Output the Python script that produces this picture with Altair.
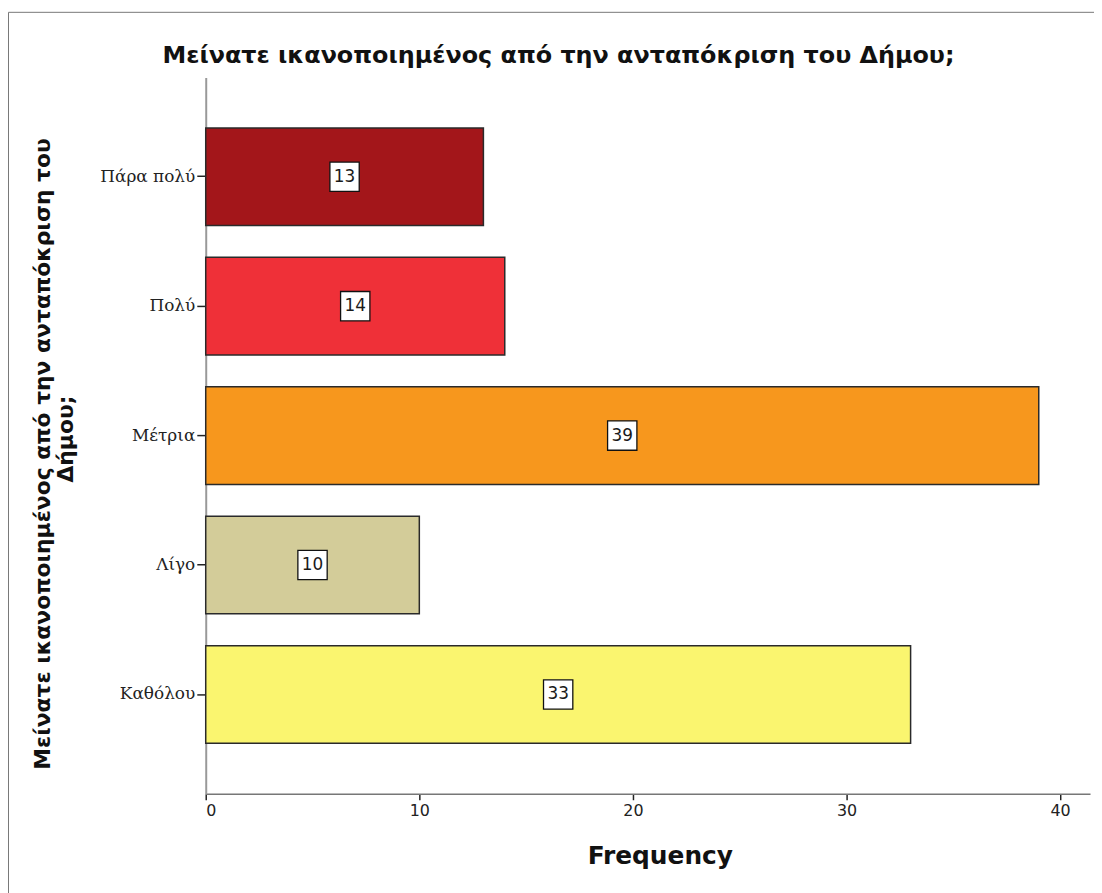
import altair as alt
import pandas as pd

# ---- data ----
categories = ["Πάρα πολύ", "Πολύ", "Μέτρια", "Λίγο", "Καθόλου"]
frequencies = [13, 14, 39, 10, 33]
colors = ["#A3161A", "#EF3038", "#F7971D", "#D3CC99", "#FAF56F"]
x_ticks = [0, 10, 20, 30, 40]
chart_title = "Μείνατε ικανοποιημένος από την ανταπόκριση του Δήμου;"
y_title_lines = ["Μείνατε ικανοποιημένος από την ανταπόκριση του", "Δήμου;"]
x_title = "Frequency"

df = pd.DataFrame({
    "cat": categories,
    "freq": frequencies,
    "half": [f / 2 for f in frequencies],
})

W, H = 890, 721
x_enc = alt.X("freq:Q", scale=alt.Scale(domain=[0, 41.4], nice=False, zero=True),
              axis=alt.Axis(values=x_ticks, title=x_title, grid=False,
                            domainColor="#777", domainWidth=1.5,
                            tickColor="#222", tickSize=6, tickWidth=1.5,
                            labelFont="DejaVu Sans", labelFontSize=16, labelColor="#222",
                            labelPadding=3,
                            titleFont="DejaVu Sans", titleFontSize=25, titleFontWeight="bold",
                            titleColor="#111", titleX=457, titleY=70,
                            titleBaseline="alphabetic"))
y_scale = alt.Scale(domain=categories, paddingInner=0.246, paddingOuter=0.39)
y_enc = alt.Y("cat:N", sort=categories, scale=y_scale,
              axis=alt.Axis(title=None, grid=False,
                            domainColor="#999", domainWidth=2,
                            tickColor="#222", tickSize=9, tickWidth=1.5,
                            labelFont="DejaVu Serif", labelFontSize=17, labelColor="#222",
                            labelPadding=2))

base = alt.Chart(df)

bars = base.mark_bar(stroke="#2a2a2a", strokeWidth=1.5).encode(
    x=x_enc,
    y=y_enc,
    color=alt.Color("cat:N", scale=alt.Scale(domain=categories, range=colors), legend=None),
)

boxes = base.mark_square(size=870, filled=True, color="white", stroke="#111",
                         strokeWidth=1.3, opacity=1).encode(
    x=alt.X("half:Q"),
    y=alt.Y("cat:N", sort=categories),
)

labels = base.mark_text(font="DejaVu Sans", fontSize=17, color="#1a1a1a",
                        baseline="middle", align="center").encode(
    x=alt.X("half:Q"),
    y=alt.Y("cat:N", sort=categories),
    text="freq:Q",
)

one = pd.DataFrame({"k": [0]})

title_mark = alt.Chart(one).mark_text(
    text=chart_title, font="DejaVu Sans", fontSize=24, fontWeight="bold",
    color="#111", align="center", baseline="alphabetic",
).encode(x=alt.value(355), y=alt.value(-15))

ytitle1 = alt.Chart(one).mark_text(
    text=y_title_lines[0], font="DejaVu Sans", fontSize=22, fontWeight="bold",
    color="#111", align="center", baseline="middle", angle=270,
).encode(x=alt.value(-164), y=alt.value(379))

ytitle2 = alt.Chart(one).mark_text(
    text=y_title_lines[1], font="DejaVu Sans", fontSize=22, fontWeight="bold",
    color="#111", align="center", baseline="middle", angle=270,
).encode(x=alt.value(-141), y=alt.value(364))

frame = alt.Chart(one).mark_rect(fillOpacity=0, stroke="#777", strokeWidth=1).encode(
    x=alt.value(-198.5), x2=alt.value(2000), y=alt.value(-65.5), y2=alt.value(2000)
)

chart = alt.layer(frame, bars, boxes, labels, title_mark, ytitle1, ytitle2).properties(
    width=W, height=H,
    background="white",
    autosize=alt.AutoSizeParams(type="none"),
    padding={"left": 199, "top": 67, "right": 4, "bottom": 97},
).configure_view(stroke=None, strokeWidth=0)

chart.save("out.html", embed_options={"renderer": "svg", "actions": False})
